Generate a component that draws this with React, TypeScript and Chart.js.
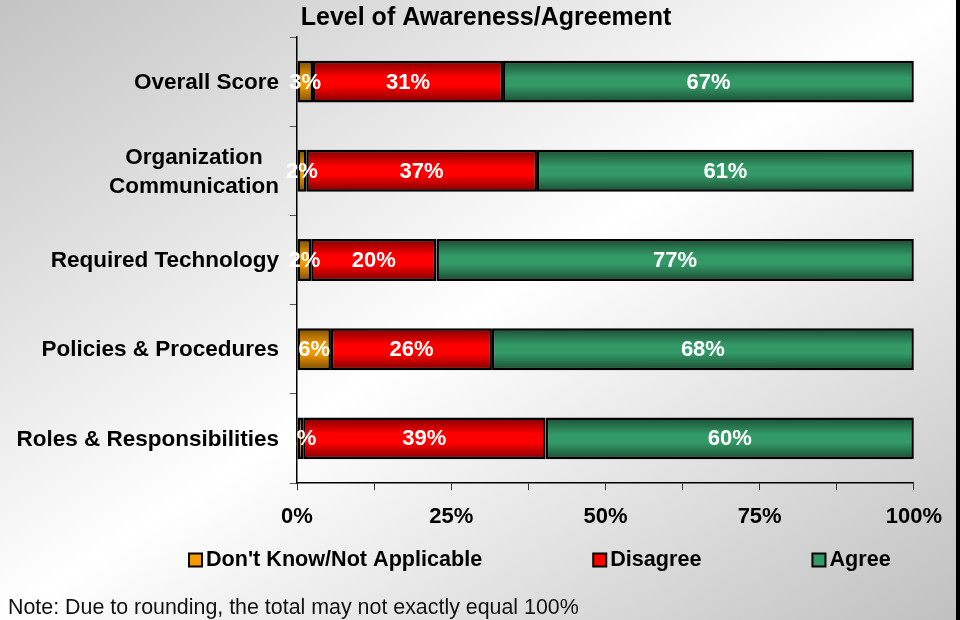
import React, { useEffect, useRef } from 'react';
import { Chart, registerables } from 'chart.js';

Chart.register(...registerables);

// ---- data ----
const categories: (string | string[])[] = [
  'Overall Score',
  ['Organization', 'Communication'],
  'Required Technology',
  'Policies & Procedures',
  'Roles & Responsibilities',
];
const seriesNames = ["Don't Know/Not Applicable", 'Disagree', 'Agree'];
const dontKnow = [2.6, 1.5, 2.3, 5.5, 1.0];
const disagree = [30.8, 37.4, 20.3, 26.1, 39.3];
const agree = [66.6, 61.1, 77.4, 68.4, 59.7];
const xLabelTicks = [0, 25, 50, 75, 100];
const chartTitle = 'Level of Awareness/Agreement';
const noteText = 'Note: Due to rounding, the total may not exactly equal 100%';

// ---- styles ----
const FONT = '"Liberation Sans", Arial, Helvetica, sans-serif';
const BAR_PCT = 0.47;
const colors = ['#f29a00', '#ff0000', '#339966'];

const shadePlugin = {
  id: 'shade',
  afterDatasetsDraw(chart: any) {
    const ctx = chart.ctx;
    ctx.save();
    chart.data.datasets.forEach((_ds: any, di: number) => {
      const meta = chart.getDatasetMeta(di);
      meta.data.forEach((el: any) => {
        const p = el.getProps(['x', 'y', 'base', 'height'], true);
        const top = p.y - p.height / 2;
        const bot = p.y + p.height / 2;
        const g = ctx.createLinearGradient(0, top, 0, bot);
        g.addColorStop(0, 'rgba(0,0,0,0.5)');
        g.addColorStop(0.4, 'rgba(0,0,0,0)');
        g.addColorStop(0.6, 'rgba(0,0,0,0)');
        g.addColorStop(1, 'rgba(0,0,0,0.5)');
        ctx.fillStyle = g;
        const l = Math.min(p.x, p.base);
        const w = Math.abs(p.x - p.base);
        ctx.fillRect(l + 1.2, top + 1.2, Math.max(0, w - 2.4), p.height - 2.4);
      });
    });
    ctx.restore();
  },
};

const yLabelPlugin = {
  id: 'yLabels',
  afterDraw(chart: any) {
    const ys = chart.scales.y;
    const ctx = chart.ctx;
    ctx.save();
    ctx.font = `bold 22.5px ${FONT}`;
    ctx.fillStyle = '#000';
    ctx.textBaseline = 'middle';
    ctx.textAlign = 'center';
    const right = chart.chartArea.left - 18;
    categories.forEach((cat, i) => {
      const lines = Array.isArray(cat) ? cat : [cat];
      const maxW = Math.max(...lines.map((l) => ctx.measureText(l).width));
      const cx = right - maxW / 2;
      const cy = ys.getPixelForValue(i);
      const lh = 29;
      lines.forEach((l, k) => {
        ctx.fillText(l, cx, cy + (k - (lines.length - 1) / 2) * lh + 1);
      });
    });
    ctx.restore();
  },
};

const valueLabelPlugin = {
  id: 'valueLabels',
  afterDatasetsDraw(chart: any) {
    const ctx = chart.ctx;
    ctx.save();
    ctx.font = `bold 22px ${FONT}`;
    ctx.fillStyle = '#fff';
    ctx.textAlign = 'center';
    ctx.textBaseline = 'middle';
    chart.data.datasets.forEach((ds: any, di: number) => {
      const meta = chart.getDatasetMeta(di);
      meta.data.forEach((el: any, i: number) => {
        const v = ds.data[i] as number;
        const p = el.getProps(['x', 'y', 'base'], true);
        ctx.fillText(Math.round(v) + '%', (p.x + p.base) / 2, p.y + 1);
      });
    });
    ctx.restore();
  },
};

const decorPlugin = {
  id: 'decor',
  afterDraw(chart: any) {
    const ctx = chart.ctx;
    ctx.save();
    // title
    ctx.font = `bold 25px ${FONT}`;
    ctx.fillStyle = '#000';
    ctx.textAlign = 'center';
    ctx.textBaseline = 'middle';
    ctx.fillText(chartTitle, 486, 18);
    // legend
    ctx.font = `bold 21.6px ${FONT}`;
    ctx.textAlign = 'left';
    let x = 189;
    const yC = 560;
    seriesNames.forEach((name, i) => {
      ctx.fillStyle = colors[i];
      ctx.fillRect(x, yC - 6.5, 13, 13);
      ctx.strokeStyle = '#000';
      ctx.lineWidth = 2;
      ctx.strokeRect(x, yC - 6.5, 13, 13);
      ctx.fillStyle = '#000';
      ctx.fillText(name, x + 17, yC);
      x += 17 + ctx.measureText(name).width + 111;
    });
    // note
    ctx.font = `21.4px ${FONT}`;
    ctx.fillStyle = '#111';
    ctx.textBaseline = 'alphabetic';
    ctx.fillText(noteText, 8, 614);
    ctx.restore();
  },
};

export default function App() {
  const ref = useRef<HTMLCanvasElement | null>(null);

  useEffect(() => {
    document.body.style.margin = '0';
    if (!ref.current) return;
    const datasets = [dontKnow, disagree, agree].map((data, i) => ({
      label: seriesNames[i],
      data,
      backgroundColor: colors[i],
      borderColor: '#000',
      borderWidth: 2.5,
      borderSkipped: false as any,
      barPercentage: BAR_PCT,
      categoryPercentage: 1,
    }));
    const chart = new Chart(ref.current, {
      type: 'bar',
      data: {
        labels: categories.map((c) => (Array.isArray(c) ? c.join(' ') : c)),
        datasets,
      },
      plugins: [shadePlugin, valueLabelPlugin, yLabelPlugin, decorPlugin],
      options: {
        animation: false,
        responsive: true,
        maintainAspectRatio: false,
        indexAxis: 'y',
        layout: { padding: { left: 14, right: 42, top: 37, bottom: 0 } },
        plugins: {
          legend: { display: false },
          tooltip: { enabled: false },
          title: { display: false },
        },
        scales: {
          x: {
            stacked: true,
            min: 0,
            max: 100,
            afterFit: (s: any) => {
              s.height = 137;
            },
            ticks: {
              stepSize: 12.5,
              autoSkip: false,
              maxRotation: 0,
              padding: 14,
              color: '#000',
              font: { family: FONT, size: 22, weight: 'bold' },
              callback: (v: any) => (xLabelTicks.includes(Number(v)) ? v + '%' : ''),
            },
            grid: {
              display: true,
              drawOnChartArea: false,
              drawTicks: true,
              tickLength: 7,
              color: '#333',
              lineWidth: 1,
            },
            border: { display: true, color: '#000', width: 1.5 },
          },
          y: {
            stacked: true,
            afterFit: (s: any) => {
              s.width = 283;
            },
            ticks: { display: false },
            grid: {
              display: true,
              offset: true,
              drawOnChartArea: false,
              drawTicks: true,
              tickLength: 7,
              color: '#555',
              lineWidth: 1,
            },
            border: { display: true, color: '#000', width: 1.5 },
          },
        },
      },
    });
    return () => chart.destroy();
  }, []);

  return (
    <div
      style={{
        width: 956,
        height: 620,
        borderRight: '4px solid #000',
        position: 'relative',
        background: 'linear-gradient(to bottom right, #c3c3c3 0%, #ffffff 50%, #c0c0c0 100%)',
      }}
    >
      <canvas ref={ref} />
    </div>
  );
}
